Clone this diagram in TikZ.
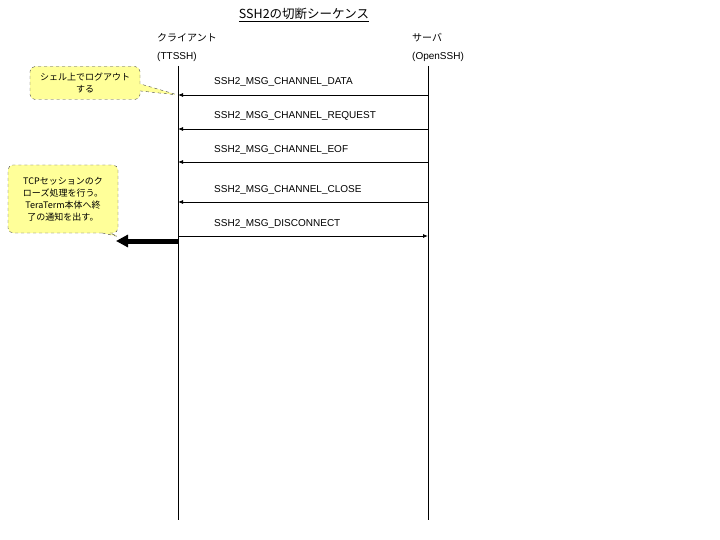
\documentclass[tikz,border=0pt]{standalone}
\usepackage{fontspec}
\setmainfont{Liberation Sans}
\newfontfamily\jpfont{Noto Sans CJK JP}
\usetikzlibrary{arrows.meta, shapes.callouts}
\definecolor{memo}{RGB}{255,255,153}
\tikzset{
	lifeline/.style={draw, black, line width=0.8pt},
	label/.style={anchor=west, inner sep=0pt, font=\fontsize{10}{11}\selectfont},
	actor/.style={anchor=west, inner sep=0pt, font=\jpfont\fontsize{10}{11}\selectfont},
	msg/.style={black, line width=0.8pt, -{Latex[length=5pt, width=4pt]}},
	% yellow note boxes on the left
	memobox/.style={rectangle callout, rounded corners=5pt, draw=black!70, dashed, fill=memo,
		minimum width=110pt, align=center, inner sep=2pt, font=\jpfont\fontsize{9}{12}\selectfont}
}
\begin{document}
\begin{tikzpicture}[x=1pt, y=-1pt]
			\useasboundingbox (0,0) rectangle (720,540);
			\node (title) at (304,15) [font=\jpfont\fontsize{12.5}{14}\selectfont, inner sep=0pt] {\underline{SSH2の切断シーケンス}};
			
			\node (client) at (157,38) [actor] {クライアント};
			\node (clientsub) at (157,57) [label] {(TTSSH)};
			\node (server) at (412,38) [actor] {サーバ};
			\node (serversub) at (412,57) [label] {(OpenSSH)};
			
			\coordinate (ctop) at (178,66);
			\coordinate (cbot) at (178,520);
			\coordinate (stop) at (428,66);
			\coordinate (sbot) at (428,520);
			\draw[lifeline] (ctop) -- (cbot);
			\draw[lifeline] (stop) -- (sbot);
			
			\coordinate (c1) at (178,95);  \coordinate (s1) at (428,95);
			\coordinate (c2) at (178,129); \coordinate (s2) at (428,129);
			\coordinate (c3) at (178,162); \coordinate (s3) at (428,162);
			\coordinate (c4) at (178,202); \coordinate (s4) at (428,202);
			\coordinate (c5) at (178,236); \coordinate (s5) at (428,236);
			
			\node (m1) at (214,82) [label] {SSH2\_MSG\_CHANNEL\_DATA};
			\node (m2) at (214,116) [label] {SSH2\_MSG\_CHANNEL\_REQUEST};
			\node (m3) at (214,150) [label] {SSH2\_MSG\_CHANNEL\_EOF};
			\node (m4) at (214,190) [label] {SSH2\_MSG\_CHANNEL\_CLOSE};
			\node (m5) at (214,224) [label] {SSH2\_MSG\_DISCONNECT};
			
			\draw[msg] (s1) -- (c1);
			\draw[msg] (s2) -- (c2);
			\draw[msg] (s3) -- (c3);
			\draw[msg] (s4) -- (c4);
			\draw[msg] (c5) -- (s5);
			
			% notification to TeraTerm
			\coordinate (cend) at (178,241);
			\coordinate (tt) at (116,241);
			\draw[line width=5pt, -{Triangle[length=12pt, width=12pt]}] (cend) -- (tt);
			
			\node (logout) at (85,83) [memobox, minimum height=33pt, callout absolute pointer={(c1)}] {シェル上でログアウト\\する};
			\node (close) at (63,199) [memobox, minimum height=68pt, callout absolute pointer={(120,237)}] {TCPセッションのク\\ローズ処理を行う。\\TeraTerm本体へ終\\了の通知を出す。};
\end{tikzpicture}
\end{document}
